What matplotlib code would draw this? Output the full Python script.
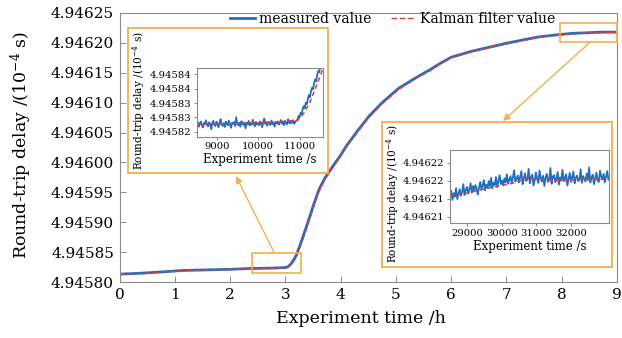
"""
Round-trip delay over a 9 h run: measured value vs Kalman filter value,
with two zoomed insets (start of the rise, and the plateau at the end).
"""
import matplotlib.pyplot as plt
from matplotlib.patches import Rectangle
from matplotlib.ticker import FormatStrFormatter

# ---------------- Data ----------------
# Main plot: time in hours, delay in 1e-4 s
main_t = [0, 0.25, 0.5, 0.75, 1.0, 1.1, 1.5, 2.0, 2.37, 2.78, 3.0, 3.04, 3.1,
          3.19, 3.25, 3.32, 3.43, 3.52, 3.61, 3.72, 3.85, 4.0, 4.1, 4.3, 4.51,
          4.75, 5.05, 5.35, 5.65, 5.77, 6.0, 6.37, 6.7, 6.98, 7.3, 7.58, 7.97,
          8.2, 8.48, 8.7, 9.0]
main_kalman = [4.945813, 4.945814, 4.945815, 4.945817, 4.945818, 4.945819,
               4.945820, 4.945821, 4.9458224, 4.9458232, 4.9458240, 4.9458245,
               4.945828, 4.945840, 4.945854, 4.945872, 4.945902, 4.945928,
               4.945952, 4.945972, 4.945990, 4.946010, 4.946025, 4.946050,
               4.946075, 4.946098, 4.946122, 4.946140, 4.946155, 4.946163,
               4.946175, 4.946185, 4.946192, 4.946198, 4.946204, 4.946209,
               4.946214, 4.946215, 4.946217, 4.946217, 4.946218]
main_measured = [4.9458132, 4.9458141, 4.9458153, 4.9458168, 4.9458183,
                 4.9458192, 4.9458201, 4.9458212, 4.9458226, 4.9458233,
                 4.9458242, 4.9458250, 4.9458300, 4.9458430, 4.9458575,
                 4.9458760, 4.9459060, 4.9459315, 4.9459550, 4.9459745,
                 4.9459925, 4.9460120, 4.946027, 4.946052, 4.946077,
                 4.946100, 4.946124, 4.946141, 4.946157, 4.946164, 4.946176,
                 4.946186, 4.946193, 4.946199, 4.946205, 4.946210, 4.946214,
                 4.946216, 4.946217, 4.946218, 4.946218]
main_yticks = [4.94580, 4.94585, 4.94590, 4.94595, 4.94600, 4.94605,
               4.94610, 4.94615, 4.94620, 4.94625]

# Inset 1: time in s, delay offset in 1e-6 (x 1e-4 s) above base
inset1_base = 4.945820
inset1_t_start = 8520
inset1_dt = 25
inset1_measured = [
    2.1, 3.4, 1.8, 2.9, 3.6, 2.2, 1.5, 3.1, 2.6, 4.0,
    2.3, 1.9, 3.3, 2.7, 0.9, 3.0, 3.8, 2.4, 2.0, 3.5,
    2.8, 1.6, 3.2, 4.4, 2.5, 2.1, 3.0, 1.7, 3.6, 2.9,
    2.2, 3.9, 2.6, 1.4, 3.1, 2.8, 3.4, 2.0, 5.1, 2.7,
    2.3, 3.2, 1.8, 3.7, 2.9, 2.4, 3.3, 1.2, 3.0, 2.6,
    3.8, 2.2, 3.1, 2.5, 4.2, 2.8, 1.9, 3.4, 2.7, 3.0,
    2.3, 3.6, 2.9, 1.6, 3.2, 4.6, 2.8, 3.3, 2.1, 3.5,
    3.0, 2.4, 3.9, 2.7, 3.1, 1.8, 3.4, 2.9, 3.6, 2.5,
    3.2, 4.1, 2.8, 3.5, 2.3, 3.8, 3.0, 2.6, 4.4, 3.3,
    2.9, 3.7, 3.1, 4.0, 2.8, 3.5, 3.9,
    4.2, 5.5, 5.0, 6.6, 6.1, 7.8, 8.9, 8.2, 10.1, 9.6, 11.5, 12.8,
    12.0, 14.1, 15.3, 14.8, 16.9, 18.2, 17.6, 19.8, 21.1, 20.7, 22.9, 24.2]
inset1_kalman_t = [8520, 9000, 9500, 10000, 10400, 10800, 10950, 11100,
                   11250, 11400, 11550]
inset1_kalman = [2.7, 2.8, 2.9, 3.2, 3.3, 3.9, 4.0, 6.5, 10.5, 16.0, 21.5]
inset1_yticks = [0, 5, 10, 15, 20]
inset1_yticklabels = ['4.94582', '4.94583', '4.94583', '4.94584', '4.94584']
inset1_xticks = [9000, 10000, 11000]

# Inset 2: plateau at the end of the run
inset2_base = 4.946210
inset2_t_start = 28500
inset2_dt = 35
inset2_measured = [
    4.1, 5.8, 3.7, 5.2, 4.4, 6.3, 3.9, 5.0, 6.1, 4.6,
    5.5, 7.2, 4.8, 5.9, 6.6, 5.1, 6.0, 7.4, 5.3, 6.8,
    5.7, 7.0, 6.2, 4.9, 6.5, 7.7, 6.0, 6.9, 8.1, 5.8,
    7.1, 6.4, 7.9, 6.7, 8.6, 6.3, 7.5, 7.0, 8.8, 6.6,
    7.8, 9.2, 7.2, 8.0, 6.9, 8.5, 7.6, 9.4, 7.3, 8.2,
    9.0, 7.5, 8.7, 10.3, 7.8, 8.4, 9.1,
    7.6, 8.9, 10.1, 7.2, 8.5, 9.6, 7.9, 8.3, 10.6, 7.4,
    8.8, 9.3, 6.9, 8.1, 9.8, 8.4, 7.5, 10.2, 8.7, 7.8,
    9.1, 6.8, 8.6, 9.5, 7.7, 8.2, 10.8, 7.3, 8.9, 9.2,
    7.6, 8.4, 9.9, 7.1, 8.7, 8.0, 10.4, 7.9, 8.5, 9.4,
    6.9, 8.3, 9.7, 7.7, 8.8, 10.0, 7.4, 8.6, 9.1, 7.9,
    8.2, 10.5, 7.5, 9.0, 8.4, 7.8, 9.6, 8.1, 10.9, 7.6,
    8.7, 9.3, 7.2, 8.5, 9.8, 8.0, 7.7, 10.2, 8.9, 8.3,
    9.5, 7.6, 8.8, 10.1, 8.2]
inset2_kalman_t = [28500, 29000, 29360, 29800, 30310, 30720, 31090, 31500,
                   31870, 32440, 33100]
inset2_kalman = [4.6, 5.2, 5.9, 6.6, 7.4, 8.5, 8.2, 8.0, 8.0, 8.5, 8.2]
inset2_yticks = [0, 4, 8, 12]
inset2_yticklabels = ['4.94621', '4.94621', '4.94622', '4.94622']
inset2_xticks = [29000, 30000, 31000, 32000]

# ---------------- Style ----------------
BLUE = '#1f6fc0'
RED = '#e8393a'
ORANGE = '#f0b14e'
GRAY = '#8a8a8a'

plt.rcParams['font.family'] = ['DejaVu Serif']
plt.rcParams['mathtext.fontset'] = 'dejavuserif'
YLABEL = r'Round-trip delay /(10$^{-4}$ s)'


def style_axes(ax, size, direction, length):
    for s in ax.spines.values():
        s.set_color(GRAY)
        s.set_linewidth(0.8)
    ax.tick_params(direction=direction, length=length, width=0.7,
                   color=GRAY, labelsize=size, pad=2)


def orange_frame(fig, x0, y0, w, h):
    """White panel with orange border that holds an inset."""
    fr = fig.add_axes([x0, y0, w, h])
    fr.set_xticks([]); fr.set_yticks([])
    for s in fr.spines.values():
        s.set_color(ORANGE)
        s.set_linewidth(1.3)
    return fr


def main():
    W, H = 622, 338
    fig = plt.figure(figsize=(W / 100, H / 100), dpi=100)

    def fx(px):
        return px / W

    def fy(py):
        return 1 - py / H

    # ---- main axes ----
    ax = fig.add_axes([fx(119.5), fy(282), fx(617) - fx(119.5), fy(13) - fy(282)])
    ax.plot(main_t, main_measured, color=BLUE, lw=2.0, label='measured value')
    ax.plot(main_t, main_kalman, color=RED, lw=1.0, ls=(0, (4, 2)),
            label='Kalman filter value')
    ax.set_xlim(0, 9)
    ax.set_ylim(4.94580, 4.94625)
    ax.set_xticks(range(10))
    ax.set_yticks(main_yticks)
    ax.yaxis.set_major_formatter(FormatStrFormatter('%.5f'))
    style_axes(ax, 11, 'in', 4)
    ax.tick_params(axis='both', pad=4)
    ax.set_xlabel('Experiment time /h', fontsize=12.5)
    ax.set_ylabel(YLABEL, fontsize=12.5)
    ax.xaxis.set_label_coords(0.486, -0.105)
    ax.yaxis.set_label_coords(-0.172, 0.51)
    ax.legend(ncol=2, frameon=False, fontsize=10, loc='upper left',
              bbox_to_anchor=(0.205, 1.035), handlelength=1.8,
              handletextpad=0.3, columnspacing=1.4, borderpad=0.1)

    # zoom boxes on the main plot
    ax.add_patch(Rectangle((2.405, 4.945815), 3.29 - 2.405, 4.9458487 - 4.945815,
                           fill=False, ec=ORANGE, lw=1.2, zorder=5))
    ax.add_patch(Rectangle((7.97, 4.946201), 9.0 - 7.97, 4.9462329 - 4.946201,
                           fill=False, ec=ORANGE, lw=1.2, zorder=5, clip_on=False))

    # arrows from zoom boxes to insets
    ax.annotate('', xy=(fx(236), fy(176)), xycoords='figure fraction',
                xytext=(2.80, 4.9458487), textcoords='data',
                arrowprops=dict(arrowstyle='-|>', color=ORANGE, lw=1.0,
                                mutation_scale=10, shrinkA=0, shrinkB=0))
    ax.annotate('', xy=(fx(503), fy(121)), xycoords='figure fraction',
                xytext=(8.51, 4.946201), textcoords='data',
                arrowprops=dict(arrowstyle='-|>', color=ORANGE, lw=1.0,
                                mutation_scale=10, shrinkA=0, shrinkB=0))

    # ---- inset 1 ----
    orange_frame(fig, fx(128), fy(173), fx(328) - fx(128), fy(28) - fy(173))
    a1 = fig.add_axes([fx(196.7), fy(136.7), fx(323) - fx(196.7), fy(67.7) - fy(136.7)])
    t1 = [inset1_t_start + inset1_dt * i for i in range(len(inset1_measured))]
    a1.plot(t1, inset1_measured, color=BLUE, lw=1.3)
    a1.plot(inset1_kalman_t, inset1_kalman, color=RED, lw=1.1, ls=(0, (3, 2)))
    a1.set_xlim(8520, 11560)
    a1.set_ylim(-1.7, 22.3)
    a1.set_xticks(inset1_xticks)
    a1.set_yticks(inset1_yticks, inset1_yticklabels)
    style_axes(a1, 7.2, 'out', 2)
    a1.set_xlabel('Experiment time /s', fontsize=8.5)
    a1.set_ylabel(YLABEL, fontsize=7.6)
    a1.xaxis.set_label_coords(0.5, -0.235)
    a1.yaxis.set_label_coords(-0.394, 0.52)

    # ---- inset 2 ----
    orange_frame(fig, fx(381.7), fy(266.7), fx(612) - fx(381.7), fy(121.7) - fy(266.7))
    a2 = fig.add_axes([fx(450), fy(223.3), fx(609) - fx(450), fy(150) - fy(223.3)])
    t2 = [inset2_t_start + inset2_dt * i for i in range(len(inset2_measured))]
    a2.plot(t2, inset2_measured, color=BLUE, lw=1.3)
    a2.plot(inset2_kalman_t, inset2_kalman, color=RED, lw=1.1, ls=(0, (3, 2)))
    a2.set_xlim(28500, 33100)
    a2.set_ylim(-1.5, 14.8)
    a2.set_xticks(inset2_xticks)
    a2.set_yticks(inset2_yticks, inset2_yticklabels)
    style_axes(a2, 7.2, 'out', 2)
    a2.set_xlabel('Experiment time /s', fontsize=8.5)
    a2.set_ylabel(YLABEL, fontsize=7.6)
    a2.xaxis.set_label_coords(0.5, -0.232)
    a2.yaxis.set_label_coords(-0.31, 0.40)

    fig.savefig('out.png', dpi=100)


if __name__ == '__main__':
    main()
